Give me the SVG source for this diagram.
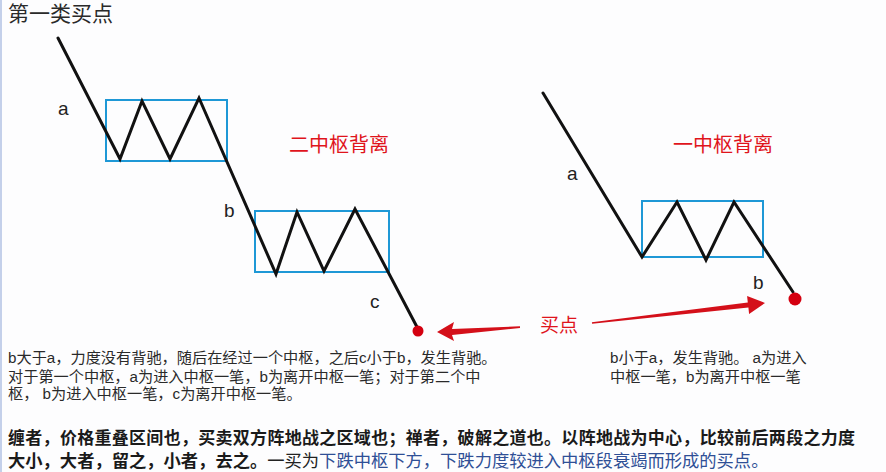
<svg xmlns="http://www.w3.org/2000/svg" width="886" height="472" viewBox="0 0 886 472">
  <style>
    .t { font-family: "Liberation Sans", "Noto Sans CJK SC", sans-serif; fill: #2a2a2a; }
    .lbl { font-family: "Liberation Sans", "Noto Sans CJK SC", sans-serif; font-size: 19px; fill: #222; }
    .red { font-family: "Liberation Sans", "Noto Sans CJK SC", sans-serif; fill: #e0141c; }
    .para { font-size: 15.2px; }
    .bold { font-size: 17px; font-weight: bold; fill: #1a1a1a; }
    .pen { fill: none; stroke: #111; stroke-width: 3; stroke-linejoin: miter; stroke-linecap: round; }
    .zs { fill: none; stroke: #1e98d6; stroke-width: 2; }
    .arr { fill: #d4101a; }
    .dot { fill: #d40010; }
  </style>
  <rect x="0" y="0" width="886" height="472" fill="#fdfdfe"/>
  <rect x="0" y="0" width="2" height="472" fill="#c4d0ea"/>

  <g id="title">
    <text class="t" x="8" y="21" font-size="21">第一类买点</text>
  </g>

  <g id="left-diagram">
    <rect id="zs1" class="zs" x="106" y="100" width="121" height="61"/>
    <rect id="zs2" class="zs" x="255" y="211" width="134" height="61"/>
    <path id="trend-left" class="pen" d="M58,38 L120,159 L142,101 L170,159 L199,98 L276,274 L297,212 L324,271 L355,209 L417,327"/>
    <text class="lbl" x="58" y="115">a</text>
    <text class="lbl" x="224" y="217">b</text>
    <text class="lbl" x="370" y="308">c</text>
    <text class="red" x="289" y="152" font-size="20">二中枢背离</text>
    <circle class="dot" cx="418" cy="331" r="5.5"/>
  </g>

  <g id="right-diagram">
    <rect id="zs3" class="zs" x="642" y="201" width="121" height="56"/>
    <path id="trend-right" class="pen" d="M543,93 L642,257 L677,202 L706,260 L734,202 L793,292"/>
    <text class="lbl" x="567" y="180">a</text>
    <text class="lbl" x="753" y="289">b</text>
    <text class="red" x="673" y="152" font-size="20">一中枢背离</text>
    <circle class="dot" cx="795" cy="299" r="6.5"/>
  </g>

  <g id="buy-point">
    <text class="red" x="540" y="332" font-size="19">买点</text>
  </g>

  <g id="connectors">
    <polygon class="arr" points="520,326.3 452,329 454,322 437,332 454,341 452,335 520,328"/>
    <polygon class="arr" points="591.9,322.3 747.8,302.5 747.1,296.1 765,303 749.1,313.9 748.4,307.5 592.1,323.7"/>
  </g>

  <g id="left-note">
    <text class="t para" x="8" y="363">b大于a，力度没有背驰，随后在经过一个中枢，之后c小于b，发生背驰。</text>
    <text class="t para" x="8" y="382">对于第一个中枢，a为进入中枢一笔，b为离开中枢一笔；对于第二个中</text>
    <text class="t para" x="8" y="399">枢， b为进入中枢一笔，c为离开中枢一笔。</text>
  </g>

  <g id="right-note">
    <text class="t para" x="610" y="363">b小于a，发生背驰。 a为进入</text>
    <text class="t para" x="610" y="382">中枢一笔，b为离开中枢一笔</text>
  </g>

  <g id="summary">
    <text class="t bold" x="8" y="444" textLength="847">缠者，价格重叠区间也，买卖双方阵地战之区域也；禅者，破解之道也。以阵地战为中心，比较前后两段之力度</text>
    <text class="t" x="8" y="467" font-size="17.3"><tspan font-weight="bold" fill="#1a1a1a">大小，大者，留之，小者，去之。</tspan><tspan fill="#222">一买为</tspan><tspan fill="#2f4f96">下跌中枢下方，下跌力度较进入中枢段衰竭而形成的买点。</tspan></text>
  </g>
</svg>
